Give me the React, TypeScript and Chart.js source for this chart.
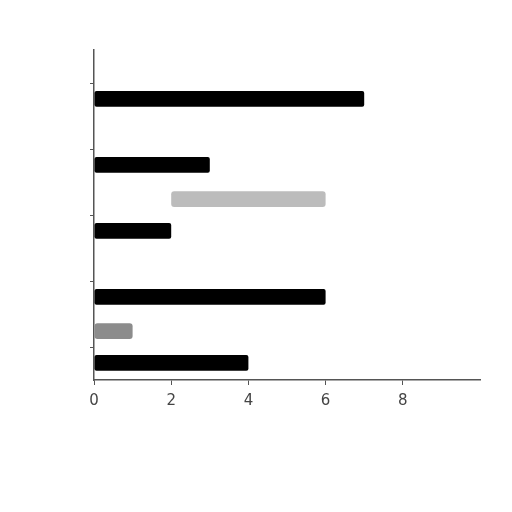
import { useEffect, useRef } from 'react'
import { Chart, registerables, ChartConfiguration } from 'chart.js'

Chart.register(...registerables)

const categories = ['A', 'B', 'C', 'D', 'E']
const grayValues: (number | [number, number] | null)[] = [null, null, [2, 6], null, 1]
const grayColors = ['#b8b8b8', '#b8b8b8', '#bcbcbc', '#b8b8b8', '#8c8c8c']
const blackValues = [7, 3, 2, 6, 4]
const xTicks = [0, 2, 4, 6, 8]

export default function App() {
  const chartRef = useRef<HTMLCanvasElement>(null)
  const chartInstance = useRef<Chart | null>(null)

  useEffect(() => {
    if (!chartRef.current) return
    if (chartInstance.current) chartInstance.current.destroy()

    const ctx = chartRef.current.getContext('2d')
    if (!ctx) return

    const config: ChartConfiguration<'bar'> = {
      type: 'bar',
      data: {
        labels: categories,
        datasets: [
          {
            label: 'gray',
            data: grayValues as any,
            backgroundColor: grayColors,
            borderRadius: 3,
            borderSkipped: false,
            barPercentage: 0.5,
            categoryPercentage: 0.96
          },
          {
            label: 'black',
            data: blackValues,
            backgroundColor: '#000000',
            borderRadius: 2,
            borderSkipped: false,
            barPercentage: 0.5,
            categoryPercentage: 0.96
          }
        ]
      },
      options: {
        indexAxis: 'y',
        animation: false,
        responsive: false,
        maintainAspectRatio: false,
        layout: { padding: { top: 50, left: 90, right: 32, bottom: 95 } },
        plugins: {
          legend: { display: false },
          tooltip: { enabled: false }
        },
        scales: {
          x: {
            min: 0,
            max: 10,
            border: { color: '#555', width: 1.5 },
            grid: {
              drawOnChartArea: false,
              tickLength: 5,
              color: (c) => (c.tick && c.tick.value === 10 ? 'rgba(0,0,0,0)' : '#555')
            },
            ticks: {
              stepSize: 2,
              padding: 7,
              color: '#444',
              font: { family: 'DejaVu Sans', size: 15 },
              callback: (v) => (xTicks.includes(Number(v)) ? String(v) : '')
            }
          },
          y: {
            border: { color: '#555', width: 1.5 },
            grid: { drawOnChartArea: false, tickLength: 4, color: '#555', offset: false },
            ticks: { display: false }
          }
        }
      }
    }

    chartInstance.current = new Chart(ctx, config)
    return () => {
      if (chartInstance.current) chartInstance.current.destroy()
    }
  }, [])

  return (
    <div style={{ position: 'fixed', left: 0, top: 0, width: 512, height: 512, background: '#fff' }}>
      <canvas ref={chartRef} width={512} height={512} style={{ width: 512, height: 512 }} />
    </div>
  )
}
